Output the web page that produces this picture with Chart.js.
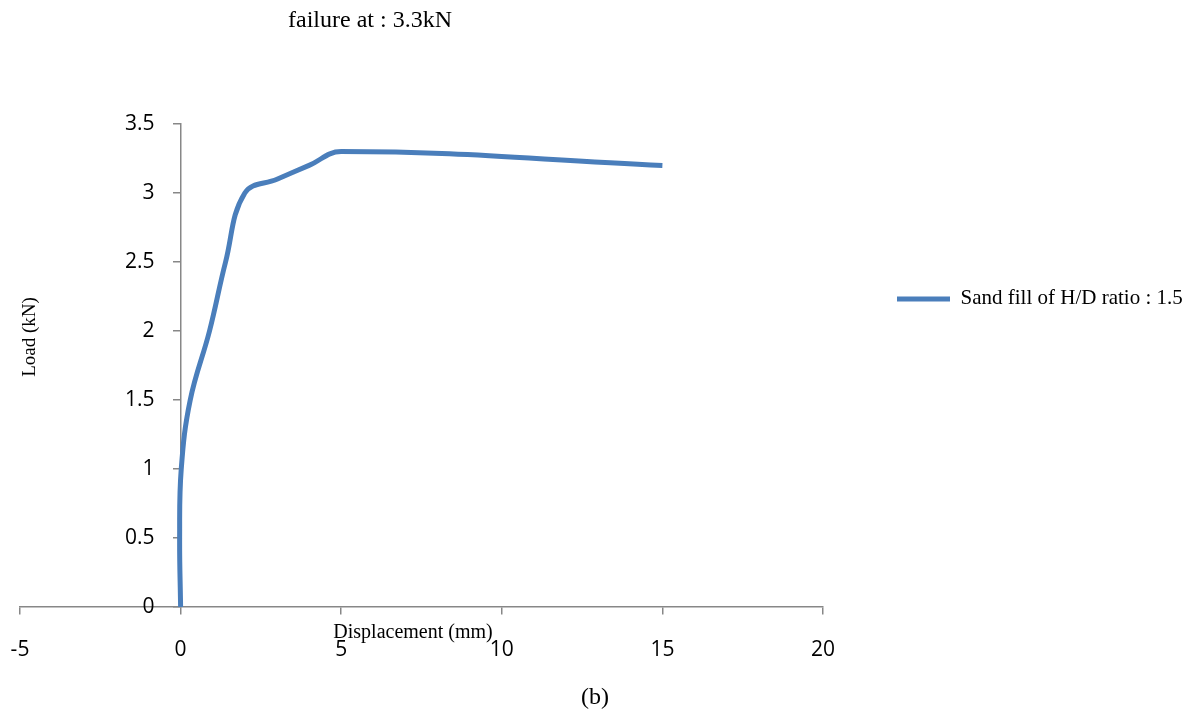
<!DOCTYPE html>
<html>
<head>
<meta charset="utf-8">
<script src="https://cdn.jsdelivr.net/npm/chart.js@4"></script>
<style>
  html, body { margin: 0; padding: 0; background: #fff; }
</style>
</head>
<body>
<canvas id="grafico" width="1191" height="715"></canvas>
<script>
// dados
var deslocamento = [0, -0.03, 0.02, 0.3, 0.9, 1.4, 2, 3, 4, 5, 15];
var carga = [0, 0.5, 1, 1.5, 2, 2.5, 3, 3.1, 3.2, 3.3, 3.2];
var xTicks = [-5, 0, 5, 10, 15, 20];
var yTicks = [0, 0.5, 1, 1.5, 2, 2.5, 3, 3.5];
var serieNome = 'Sand fill of H/D ratio : 1.5';

var tituloTopo = 'failure at : 3.3kN';
var tituloX = 'Displacement (mm)';
var tituloY = 'Load (kN)';
var rodape = '(b)';

var eixoCor = '#878787';
var serif = '"Liberation Serif", "Times New Roman", serif';

var pontos = deslocamento.map(function (d, i) {
    return { x: d, y: carga[i] };
});

// o eixo y fica em x = 0, os rotulos precisam sair do traco
var yEtiquetas = {
    id: 'yEtiquetas',
    beforeDraw: function (chart) {
        var s = chart.scales.y;
        var items = s.getLabelItems(chart.chartArea);
        if (items._deslocado) return;
        var recuo = s.options.ticks.padding + s.options.grid.tickLength;
        items.forEach(function (item) {
            item.options.translation[0] -= recuo;
        });
        items._deslocado = true;
    }
};

var textosExtras = {
    id: 'textosExtras',
    afterDraw: function (chart) {
        var ctx = chart.ctx;
        ctx.save();
        ctx.fillStyle = '#000';
        ctx.textAlign = 'center';
        ctx.textBaseline = 'middle';
        ctx.font = '24px ' + serif;
        ctx.fillText(tituloTopo, 370, 21);
        ctx.fillText(rodape, 595, 698);
        ctx.font = '20px ' + serif;
        ctx.fillText(tituloX, 413, 633);
        ctx.font = '19px ' + serif;
        ctx.translate(30, 337);
        ctx.rotate(-Math.PI / 2);
        ctx.fillText(tituloY, 0, 0);
        ctx.restore();
    }
};

var semFolga = function (s) {
    s.paddingLeft = 0;
    s.paddingRight = 0;
    s.paddingTop = 0;
    s.paddingBottom = 0;
};

var ctx = document.getElementById('grafico');

var myChart = new Chart(ctx, {
    type: 'scatter',
    data: {
        datasets: [{
            label: serieNome,
            data: pontos,
            showLine: true,
            borderColor: '#4A7EBB',
            backgroundColor: '#4A7EBB',
            borderWidth: 5,
            pointRadius: 0,
            tension: 0.4
        }]
    },
    options: {
        responsive: false,
        animation: false,
        devicePixelRatio: 1,
        layout: {
            padding: { left: 20, top: 124, right: 8, bottom: 108 }
        },
        scales: {
            x: {
                type: 'linear',
                position: { y: 0 },
                min: -5,
                max: 20,
                afterBuildTicks: function (s) {
                    s.ticks = xTicks.map(function (v) { return { value: v }; });
                },
                afterFit: semFolga,
                grid: { drawOnChartArea: false, drawTicks: true, tickLength: 7, color: eixoCor, lineWidth: 1.5 },
                border: { color: eixoCor, width: 1.5 },
                ticks: {
                    color: '#000',
                    font: { family: 'Open Sans', size: 21 },
                    padding: 23,
                    maxRotation: 0,
                    autoSkip: false,
                    callback: function (v) { return String(v); }
                }
            },
            y: {
                type: 'linear',
                position: { x: 0 },
                min: 0,
                max: 3.5,
                afterBuildTicks: function (s) {
                    s.ticks = yTicks.map(function (v) { return { value: v }; });
                },
                afterFit: semFolga,
                grid: { drawOnChartArea: false, drawTicks: true, tickLength: 7, color: eixoCor, lineWidth: 1.5 },
                border: { color: eixoCor, width: 1.5 },
                ticks: {
                    color: '#000',
                    font: { family: 'Open Sans', size: 21 },
                    padding: 19,
                    autoSkip: false,
                    callback: function (v) { return String(v); }
                }
            }
        },
        plugins: {
            legend: {
                position: 'right',
                align: 'start',
                maxWidth: 360,
                title: { display: true, text: '', padding: 38 },
                labels: {
                    usePointStyle: true,
                    pointStyle: 'line',
                    pointStyleWidth: 53,
                    padding: 74,
                    color: '#000',
                    font: { family: serif, size: 21 }
                }
            },
            tooltip: { enabled: false }
        }
    },
    plugins: [yEtiquetas, textosExtras]
});
</script>
</body>
</html>
